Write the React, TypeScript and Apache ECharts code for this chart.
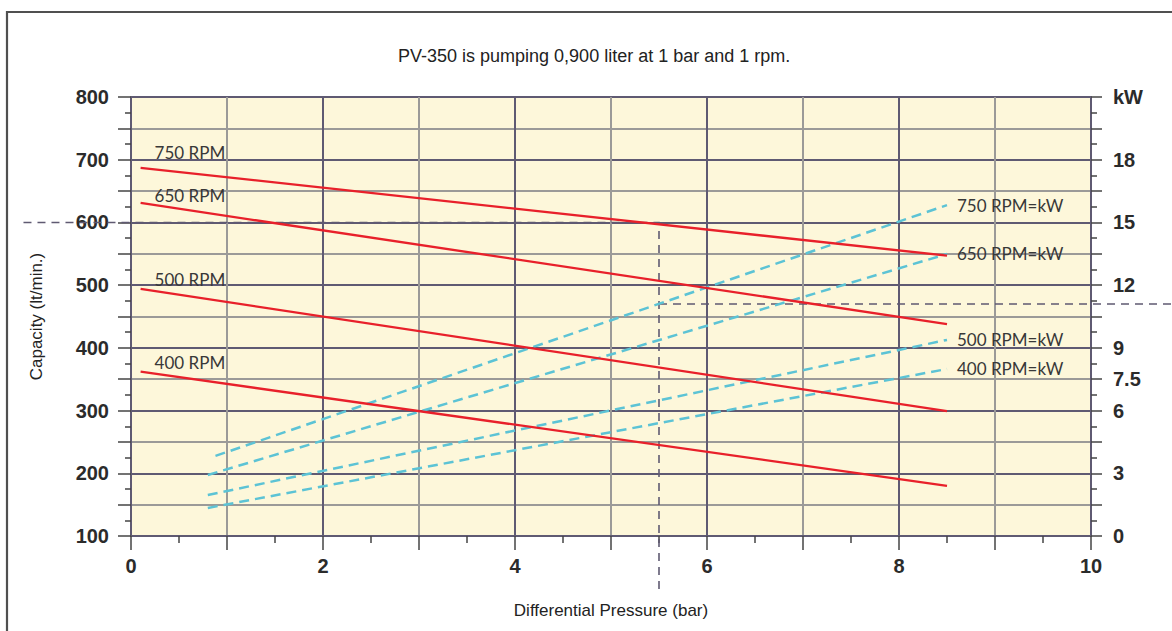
import React, { useEffect, useRef } from "react";
import * as echarts from "echarts";

// Differential pressure (bar) at the start / end of each curve
const capacityX = [0.1, 8.5];
// Capacity curves (lt/min.)
const capacity750 = [687, 547];
const capacity650 = [631, 438];
const capacity500 = [494, 299];
const capacity400 = [362, 180];

// Power curves (kW)
const kwX750 = [0.88, 8.5];
const kwX = [0.8, 8.5];
const kw750 = [3.83, 15.83];
const kw650 = [2.92, 13.49];
const kw500 = [1.96, 9.38];
const kw400 = [1.34, 7.99];

// Reading example (5.5 bar -> 600 lt/min, ~11.1 kW)
const refPressure = 5.5;
const refCapacity = 600;
const refKw = 11.1;
const refLeftPressure = -1.12;
const refRightPressure = 10.9;
const refBottomCapacity = 10;

const capacityLabels = ["750 RPM", "650 RPM", "500 RPM", "400 RPM"];
const kwLabels = ["750 RPM=kW", "650 RPM=kW", "500 RPM=kW", "400 RPM=kW"];

const DARK = "#5f5a72";
const LIGHT = "#9b9a98";
const RED = "#e8202a";
const CYAN = "#5cc3d5";

export default function App() {
  const ref = useRef<HTMLDivElement>(null);
  useEffect(() => {
    if (!ref.current) return;
    const chart = echarts.init(ref.current, null, { renderer: "svg" });

    const capSeries = [capacity750, capacity650, capacity500, capacity400].map((vals, i) => ({
      type: "line",
      name: capacityLabels[i],
      xAxisIndex: 0,
      yAxisIndex: 0,
      showSymbol: false,
      symbol: "none",
      lineStyle: { color: RED, width: 2.3 },
      // reversed so that the end label sits at the left end
      data: capacityX.map((x, j) => [x, vals[j]]).reverse(),
      endLabel: {
        show: true,
        formatter: capacityLabels[i],
        distance: 0,
        offset: [14, [-15, -7, -9, -9][i]],
        align: "left",
        verticalAlign: "middle",
        fontFamily: "Lato",
        fontSize: 17,
        color: "#383838",
      },
      z: 5,
    }));

    const kwSeries = [kw750, kw650, kw500, kw400].map((vals, i) => {
      const xs = i === 0 ? kwX750 : kwX;
      return {
        type: "line",
        name: kwLabels[i],
        xAxisIndex: 0,
        yAxisIndex: 1,
        showSymbol: false,
        symbol: "none",
        lineStyle: { color: CYAN, width: 2.5, type: [10, 6] },
        data: xs.map((x, j) => [x, vals[j]]),
        endLabel: {
          show: true,
          formatter: kwLabels[i],
          distance: 0,
          offset: [10, 0],
          align: "left",
          verticalAlign: "middle",
          fontFamily: "Lato",
          fontSize: 17,
          color: "#383838",
        },
        z: 4,
      };
    });

    chart.setOption({
      animation: false,
      backgroundColor: "#ffffff",
      title: {
        text: "PV-350 is pumping 0,900 liter at 1 bar and 1 rpm.",
        left: 393,
        top: 42,
        textStyle: {
          fontFamily: "Liberation Sans",
          fontSize: 18,
          fontWeight: "normal",
          color: "#222",
        },
      },
      grid: {
        left: 131,
        right: 81,
        top: 97,
        bottom: 95,
        show: true,
        backgroundColor: "#fdf7da",
        borderWidth: 0,
      },
      xAxis: {
        type: "value",
        min: 0,
        max: 10,
        interval: 1,
        name: "Differential Pressure (bar)",
        nameLocation: "middle",
        nameGap: 66,
        nameTextStyle: { fontFamily: "Liberation Sans", fontSize: 17, color: "#222" },
        axisLine: { show: true, lineStyle: { color: DARK, width: 2 } },
        axisTick: { show: true, length: 14, lineStyle: { color: "#444", width: 1.5 } },
        minorTick: { show: true, splitNumber: 2, length: 7, lineStyle: { color: "#444", width: 1.5 } },
        splitLine: { show: true, lineStyle: { color: [DARK, LIGHT], width: 2 } },
        axisLabel: {
          margin: 20,
          fontFamily: "Liberation Sans",
          fontWeight: "bold",
          fontSize: 20,
          color: "#2b2b2b",
          formatter: (v: number) => (Math.round(v) % 2 === 0 ? String(v) : ""),
        },
      },
      yAxis: [
        {
          type: "value",
          min: 100,
          max: 800,
          interval: 50,
          name: "Capacity (lt/min.)",
          nameLocation: "middle",
          nameGap: 86,
          nameTextStyle: { fontFamily: "Liberation Sans", fontSize: 17, color: "#222" },
          axisLine: { show: true, lineStyle: { color: DARK, width: 2 } },
          axisTick: { show: true, length: 13, lineStyle: { color: "#444", width: 1.5 } },
          minorTick: { show: true, splitNumber: 2, length: 6, lineStyle: { color: "#444", width: 1.5 } },
          splitLine: { show: true, lineStyle: { color: [DARK, LIGHT], width: 2 } },
          axisLabel: {
            margin: 22,
            fontFamily: "Liberation Sans",
            fontWeight: "bold",
            fontSize: 20,
            color: "#2b2b2b",
            formatter: (v: number) => (Math.round(v) % 100 === 0 ? String(v) : ""),
          },
        },
        {
          type: "value",
          position: "right",
          min: 0,
          max: 21,
          interval: 1.5,
          axisLine: { show: true, lineStyle: { color: DARK, width: 2 } },
          axisTick: { show: true, length: 11, lineStyle: { color: "#444", width: 1.5 } },
          minorTick: { show: true, splitNumber: 2, length: 6, lineStyle: { color: "#444", width: 1.5 } },
          splitLine: { show: false },
          axisLabel: {
            margin: 22,
            fontFamily: "Liberation Sans",
            fontWeight: "bold",
            fontSize: 20,
            color: "#2b2b2b",
            formatter: (v: number) => {
              const r = Math.round(v * 100) / 100;
              if (r === 21) return "kW";
              if (r === 7.5) return "7.5";
              if (Math.abs(r % 3) < 1e-6) return String(r);
              return "";
            },
          },
        },
      ],
      series: [...kwSeries, ...capSeries],
    });

    // Reading-example guide lines, placed through the chart's own scales
    const capPx = (p: number[]) => chart.convertToPixel({ xAxisIndex: 0, yAxisIndex: 0 }, p) as number[];
    const kwPx = (p: number[]) => chart.convertToPixel({ xAxisIndex: 0, yAxisIndex: 1 }, p) as number[];
    const guide1 = [
      capPx([refLeftPressure, refCapacity]),
      capPx([refPressure, refCapacity]),
      capPx([refPressure, refBottomCapacity]),
    ];
    const guide2 = [kwPx([refPressure, refKw]), kwPx([refRightPressure, refKw])];
    const guideStyle = { fill: "none", stroke: DARK, lineWidth: 1.6, lineDash: [8, 6] };

    chart.setOption({
      graphic: [
        {
          type: "rect",
          shape: { x: 7, y: 12, width: 1300, height: 800 },
          style: { fill: "none", stroke: "#505050", lineWidth: 2.2 },
          silent: true,
          z: 100,
        },
        { type: "polyline", shape: { points: guide1 }, style: guideStyle, silent: true, z: 3 },
        { type: "polyline", shape: { points: guide2 }, style: guideStyle, silent: true, z: 3 },
      ],
    });
    return () => chart.dispose();
  }, []);

  return (
    <div
      ref={ref}
      style={{ position: "fixed", left: 0, top: 0, width: 1172, height: 631 }}
    />
  );
}
